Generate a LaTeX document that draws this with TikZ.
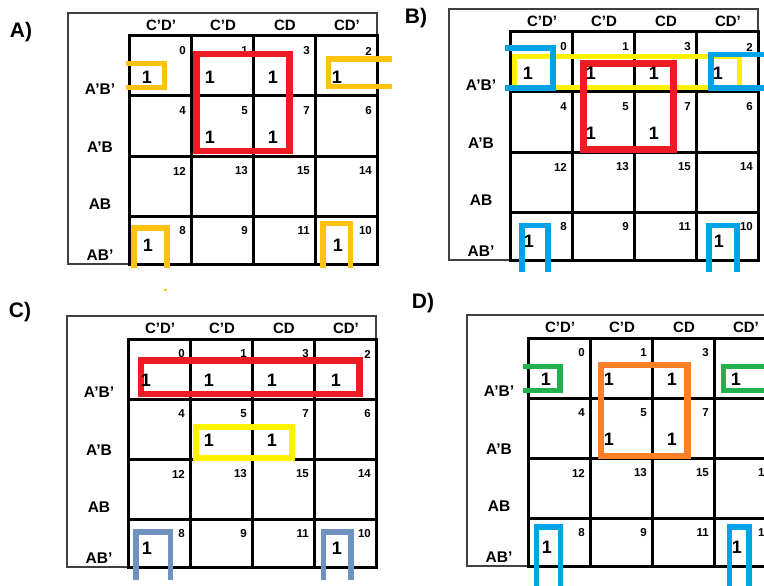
\documentclass[tikz,border=0pt]{standalone}
\usepackage{fontspec}
\setmainfont{Liberation Sans}
\definecolor{grpred}{HTML}{ED1C24}
\definecolor{grpgold}{HTML}{FFC20E}
\definecolor{grpyellow}{HTML}{FFF200}
\definecolor{grpblue}{HTML}{00A2E8}
\definecolor{grpsteel}{HTML}{7092BE}
\definecolor{grpgreen}{HTML}{22B14C}
\definecolor{grporange}{HTML}{FF7F27}

\begin{document}
\begin{tikzpicture}[x=1pt,y=-1pt,
  frame/.style={draw=black!75,line width=1.3pt},
  cell/.style={draw=black,line width=3pt},
  head/.style={font=\fontsize{15}{15}\selectfont\bfseries},
  rowlab/.style={font=\fontsize{15.5}{15.5}\selectfont\bfseries},
  num/.style={font=\fontsize{11.5}{11.5}\selectfont\bfseries,inner sep=0pt,anchor=east},
  one/.style={font=\fontsize{18}{18}\selectfont\bfseries,inner sep=0pt},
  tag/.style={font=\fontsize{21}{21}\selectfont\bfseries,inner sep=0pt},
  grp/.style={draw=#1,line width=5.5pt}]
\useasboundingbox (0,0) rectangle (764,586);

% the four maps
\foreach \m/\gx/\gy in {A/129/36,B/510/32,C/128/339,D/528/338}{
  \begin{scope}[shift={(\gx,\gy)}]
    \draw[frame] (-61,-23) rectangle (248,228);
    \foreach \c/\cl in {0/C'D',1/C'D,2/CD,3/CD'}{
      \node[head] (\m-h\c) at (62*\c+32,-11) {\cl};
    }
    \foreach \r/\ry/\rh/\rl/\rv/\ly in {0/0/60/A'B'/0/53,1/60/60/A'B/4/111,2/120/60/AB/12/168,3/180/48/AB'/8/219}{
      \node[rowlab] (\m-r\r) at (-29,\ly) {\rl};
      \foreach \c/\cv in {0/0,1/1,2/3,3/2}{
        \draw[cell] (62*\c,\ry) rectangle +(62,\rh);
        \pgfmathtruncatemacro\n{\rv+\cv}
        \node[num] (\m-n\n) at (62*\c+57,\ry+15) {\n};
      }
    }
  \end{scope}
}
\node[tag] (tagA) at (21,32) {A)};
\node[tag] (tagB) at (416,18) {B)};
\node[tag] (tagC) at (20,312) {C)};
\node[tag] (tagD) at (423,303) {D)};

% groups of map A
\draw[grp=grpred,line width=6.5pt] (196.7,54) rectangle (289.3,151);
\draw[grp=grpgold,line width=5pt] (126,64) -- (164,64) -- (164,88) -- (126,88);
\draw[grp=grpgold] (392,59) -- (328.7,59) -- (328.7,86.7) -- (392,86.7);
\draw[grp=grpgold] (134,268) -- (134,228) -- (167,228) -- (167,268);
\draw[grp=grpgold] (323,268) -- (323,223.7) -- (350.5,223.7) -- (350.5,268);
\draw[grp=grpgold,line width=1.5pt] (163.5,290) -- (166.5,290);

% groups of map B
\draw[grp=grpyellow,line width=5pt] (514,56.5) rectangle (739,88);
\draw[grp=grpred,line width=6.5pt] (583.3,63.5) rectangle (673.3,149.7);
\draw[grp=grpblue] (505,48) -- (553,48) -- (553,88) -- (505,88);
\draw[grp=grpblue] (770,54.5) -- (710.8,54.5) -- (710.8,88) -- (770,88);
\draw[grp=grpblue] (521.8,272) -- (521.8,225.5) -- (548.2,225.5) -- (548.2,272);
\draw[grp=grpblue] (709.2,272) -- (709.2,225.5) -- (736.8,225.5) -- (736.8,272);

% groups of map C
\draw[grp=grpred,line width=6.5pt] (141,360.3) rectangle (359.3,394.2);
\draw[grp=grpyellow,line width=6pt] (195.8,426.7) rectangle (292.2,458.3);
\draw[grp=grpsteel] (136.2,580) -- (136.2,532.2) -- (170.5,532.2) -- (170.5,580);
\draw[grp=grpsteel] (323.3,580) -- (323.3,532.2) -- (350.8,532.2) -- (350.8,580);

% groups of map D
\draw[grp=grpgreen] (523,366.7) -- (560,366.7) -- (560,390.3) -- (523,390.3);
\draw[grp=grpgreen] (770,366.3) -- (723.3,366.3) -- (723.3,390.7) -- (770,390.7);
\draw[grp=grporange,line width=6.5pt] (601.2,365) rectangle (687.5,456);
\draw[grp=grpblue] (536.3,590) -- (536.3,527.2) -- (560.5,527.2) -- (560.5,590);
\draw[grp=grpblue] (729.5,590) -- (729.5,527.2) -- (748.8,527.2) -- (748.8,590);

% the ones, on top
\foreach \m/\gx/\gy in {A/129/36,B/510/32,C/128/339,D/528/338}{
  \foreach \c/\ox/\oy/\k in {0/18/41/0,1/19/41/1,2/20/41/3,3/22/41/2,1/19/101/5,2/20/101/7,0/19/209/8,3/23/209/10}{
    \node[one] (\m-one\k) at (\gx+62*\c+\ox,\gy+\oy) {1};
  }
}
\end{tikzpicture}
\end{document}
